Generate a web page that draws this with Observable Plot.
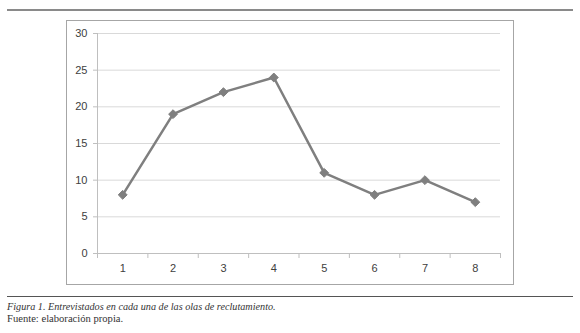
<!DOCTYPE html>
<html>
<head>
<meta charset="utf-8">
<script src="https://cdn.jsdelivr.net/npm/d3@7"></script>
<script src="https://cdn.jsdelivr.net/npm/@observablehq/plot@0.6"></script>
<style>
  html, body { margin: 0; padding: 0; background: #fff; }
  #wrap { position: relative; width: 580px; height: 333px; overflow: hidden; }
  #chart { position: absolute; left: 0; top: 0; }
  .rule-top { position: absolute; left: 7px; top: 9px; width: 566px; height: 2px; background: #8a8a8a; }
  .box { position: absolute; left: 66px; top: 20px; width: 446px; height: 263px; border: 1px solid #a6a6a6; }
  .rule-bottom { position: absolute; left: 7px; top: 296px; width: 566px; height: 1px; background: #555; }
  .cap { position: absolute; left: 7px; font-family: "Liberation Serif", serif; color: #333; white-space: nowrap; }
  .cap1 { top: 301px; font-size: 10.2px; font-style: italic; }
  .cap2 { top: 313px; font-size: 10.6px; }
</style>
</head>
<body>
<div id="wrap">
  <div class="rule-top"></div>
  <div class="box"></div>
  <div id="chart"></div>
  <div class="rule-bottom"></div>
  <div class="cap cap1">Figura 1. Entrevistados en cada una de las olas de reclutamiento.</div>
  <div class="cap cap2">Fuente: elaboración propia.</div>
</div>
<script>
const olas = [1, 2, 3, 4, 5, 6, 7, 8];
const entrevistados = [8, 19, 22, 24, 11, 8, 10, 7];
const yTicks = [0, 5, 10, 15, 20, 25, 30];

const data = olas.map((o, i) => ({ ola: o, n: entrevistados[i] }));
const bounds = [olas[0] - 0.5, ...olas.map(o => o + 0.5)];

const plot = Plot.plot({
  width: 580,
  height: 333,
  marginLeft: 97,
  marginRight: 80,
  marginTop: 33,
  marginBottom: 80,
  style: { fontFamily: "'Liberation Sans', Arial, sans-serif", fontSize: "11px", color: "#404040", background: "transparent" },
  x: { type: "linear", domain: [bounds[0], bounds[bounds.length - 1]] },
  y: { domain: [0, 30] },
  marks: [
    Plot.gridY(yTicks, { stroke: "#d9d9d9", strokeOpacity: 1 }),
    Plot.axisY(yTicks, { tickSize: 4, tickPadding: 6, stroke: "#bfbfbf", label: null, fill: "#404040" }),
    Plot.axisX(olas, { tickSize: 0, tickPadding: 11, label: null, fill: "#404040" }),
    Plot.axisX(bounds, { tickSize: 5, tickFormat: () => "", stroke: "#bfbfbf", label: null }),
    Plot.frame({ anchor: "left", stroke: "#bfbfbf" }),
    Plot.frame({ anchor: "bottom", stroke: "#bfbfbf" }),
    Plot.line(data, { x: "ola", y: "n", stroke: "#7f7f7f", strokeWidth: 2.5 }),
    Plot.dot(data, { x: "ola", y: "n", symbol: "diamond2", r: 4, fill: "#7f7f7f", stroke: "#7f7f7f", strokeWidth: 1 })
  ]
});
document.getElementById("chart").appendChild(plot);
</script>
</body>
</html>
